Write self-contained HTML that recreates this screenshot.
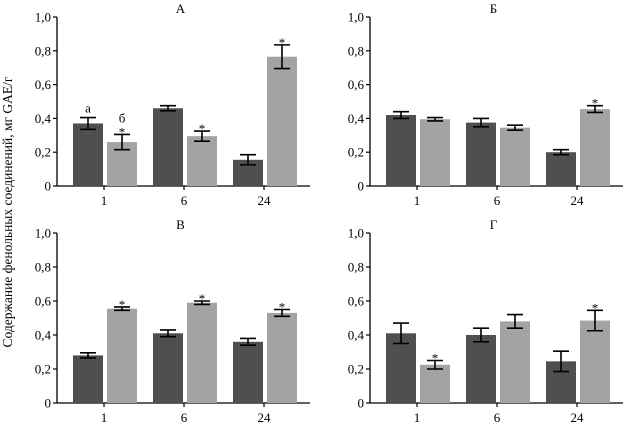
<!DOCTYPE html>
<html><head><meta charset="utf-8"><style>
body{margin:0;background:#fff;}
svg{display:block;font-family:"Liberation Serif",serif;}
</style></head><body>
<svg id="c" width="629" height="425">
<text x="12" y="212" font-size="13.5" text-anchor="middle" transform="rotate(-90 12 212)">Содержание фенольных соединений, мг GAE/г</text>
</svg>
<script>
const categories = ["1","6","24"];
const yTicks = [0,0.2,0.4,0.6,0.8,1.0];
const yTickLabels = ["0","0,2","0,4","0,6","0,8","1,0"];
const panelTitles = ["А","Б","В","Г"];
const darkA=[0.37,0.46,0.155], darkAErr=[0.035,0.015,0.03];
const lightA=[0.26,0.295,0.765], lightAErr=[0.045,0.03,0.07];
const darkB=[0.42,0.375,0.20], darkBErr=[0.02,0.025,0.015];
const lightB=[0.395,0.345,0.455], lightBErr=[0.01,0.015,0.02];
const darkV=[0.28,0.41,0.36], darkVErr=[0.015,0.02,0.02];
const lightV=[0.555,0.59,0.53], lightVErr=[0.01,0.01,0.02];
const darkG=[0.41,0.40,0.245], darkGErr=[0.06,0.04,0.06];
const lightG=[0.225,0.48,0.485], lightGErr=[0.025,0.04,0.06];
const starsA=[[false,true],[false,true],[false,true]];
const starsB=[[false,false],[false,false],[false,true]];
const starsV=[[false,true],[false,true],[false,true]];
const starsG=[[false,true],[false,false],[false,true]];

const NS="http://www.w3.org/2000/svg";
const svg=document.getElementById('c');
function mk(tag,attrs,parent){const e=document.createElementNS(NS,tag);for(const k in attrs)e.setAttribute(k,attrs[k]);(parent||svg).appendChild(e);return e;}
const panels=[
 {ax:57,y0:186,y1:17,xEnd:310,d:darkA,de:darkAErr,l:lightA,le:lightAErr,s:starsA,t:panelTitles[0]},
 {ax:370,y0:186,y1:17,xEnd:623,d:darkB,de:darkBErr,l:lightB,le:lightBErr,s:starsB,t:panelTitles[1]},
 {ax:57,y0:403,y1:233,xEnd:310,d:darkV,de:darkVErr,l:lightV,le:lightVErr,s:starsV,t:panelTitles[2]},
 {ax:370,y0:403,y1:233,xEnd:623,d:darkG,de:darkGErr,l:lightG,le:lightGErr,s:starsG,t:panelTitles[3]}
];
panels.forEach((p,pi)=>{
 const g=mk('g',{});
 
 
 const yS=v=>p.y0-(p.y0-p.y1)*v;
 const xC=i=>p.ax+47+80*i;
 const title=mk('text',{x:(p.ax+p.xEnd)/2-3,y:p.y1-4,'font-size':13,'text-anchor':'middle'},g);
 title.textContent=p.t;
 
 
 const yax=mk('line',{x1:p.ax,x2:p.ax,y1:p.y1,y2:p.y0,stroke:'#000','stroke-width':1.3},g);
 
 
 const xax=mk('line',{x1:p.ax,x2:p.xEnd,y1:p.y0,y2:p.y0,stroke:'#000','stroke-width':1.3},g);
 
 
 yTicks.forEach((v,i)=>{
  mk('line',{x1:p.ax-4,x2:p.ax,y1:yS(v),y2:yS(v),stroke:'#000','stroke-width':1.2},g);
  const t=mk('text',{x:p.ax-6,y:yS(v)+4.5,'font-size':13,'text-anchor':'end'},g);
  t.textContent=yTickLabels[i];
  
  
 });
 categories.forEach((c,i)=>{
  const cx=xC(i);
  mk('line',{x1:cx,x2:cx,y1:p.y0,y2:p.y0+4,stroke:'#000','stroke-width':1.2},g);
  const t=mk('text',{x:cx,y:p.y0+19,'font-size':13,'text-anchor':'middle'},g);
  t.textContent=c;
  
  
  [[p.d,p.de,'#4f4f4f',cx-31],[p.l,p.le,'#a3a3a3',cx+3]].forEach((s,k)=>{
   const v=s[0][i],e=s[1][i],x=s[3];
   const r=mk('rect',{x:x,y:yS(v),width:30,height:p.y0-yS(v),fill:s[2]},g);
   
   
   const m=x+15;
   mk('path',{d:`M${m},${yS(v+e)}V${yS(v-e)}M${m-8},${yS(v+e)}H${m+8}M${m-8},${yS(v-e)}H${m+8}`,stroke:'#000','stroke-width':1.6,fill:'none'},g);
   if(p.s[i][k]){
    const st=mk('text',{x:m,y:yS(v+e)+2,'font-size':13,'text-anchor':'middle'},g);
    st.textContent='*';
    
    
   }
  });
 });
 if(pi===0){
  const a=mk('text',{x:xC(0)-16,y:yS(p.d[0]+p.de[0])-5,'font-size':13,'text-anchor':'middle'},g);
  a.textContent='а';
  
  
  const b=mk('text',{x:xC(0)+18,y:yS(p.l[0]+p.le[0])-12,'font-size':13,'text-anchor':'middle'},g);
  b.textContent='б';
  
  
 }
});
</script>
</body></html>
